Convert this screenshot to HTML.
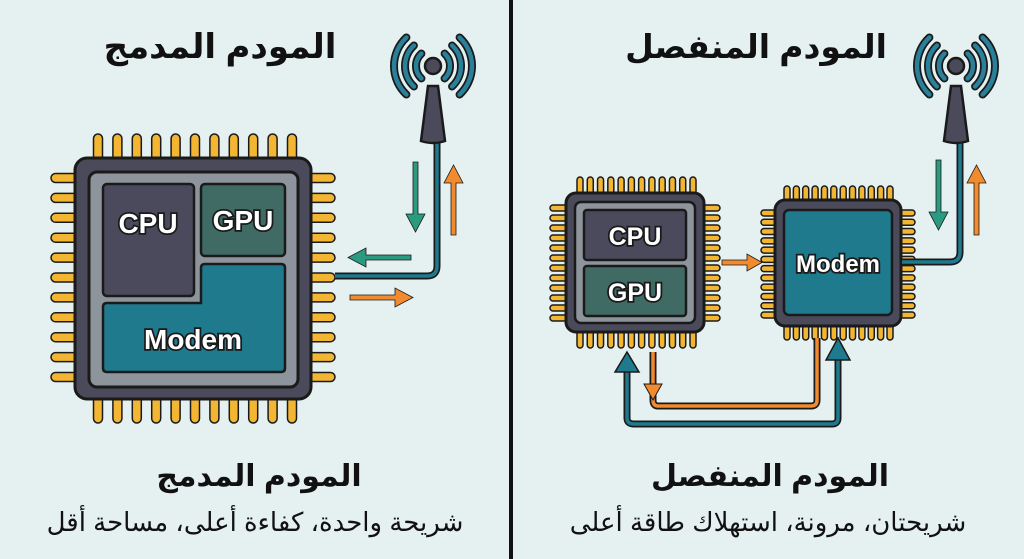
<!DOCTYPE html>
<html><head><meta charset="utf-8"><style>
html,body{margin:0;padding:0;background:#e5f0f1;}
svg{display:block}
text{font-family:"Liberation Sans","DejaVu Sans",sans-serif;}
.ar{font-family:"DejaVu Sans","Noto Sans CJK SC",sans-serif;}
.lbl text{paint-order:stroke;}
</style></head><body>
<svg id="s" width="1024" height="559" viewBox="0 0 1024 559" xmlns="http://www.w3.org/2000/svg">
<rect width="1024" height="559" fill="#e5f0f1"/>
<rect x="509" y="0" width="4" height="559" fill="#111"/>
<g id="pins"></g>

<!-- Left chip -->
<rect x="75" y="158" width="236" height="241" rx="12" fill="#4a4a5a" stroke="#1a1a1a" stroke-width="3"/>
<rect x="89" y="172" width="209" height="215" rx="8" fill="#8e949c" stroke="#1a1a1a" stroke-width="3"/>
<rect x="103" y="184" width="91" height="112" rx="4" fill="#4a4a5c" stroke="#1a1a1a" stroke-width="2.5"/>
<rect x="201" y="184" width="84" height="72" rx="4" fill="#3f6b64" stroke="#1a1a1a" stroke-width="2.5"/>
<path d="M205 264 H281 Q285 264 285 268 V368 Q285 372 281 372 H107 Q103 372 103 368 V307 Q103 303 107 303 H201 V268 Q201 264 205 264 Z" fill="#1f7a8e" stroke="#1a1a1a" stroke-width="2.5"/>
<g class="lbl" fill="#fff" stroke="#1a1a1a" stroke-width="3.5" font-weight="bold" text-anchor="middle">
<text x="148" y="233" font-size="28">CPU</text>
<text x="243" y="230" font-size="28">GPU</text>
<text x="193" y="349" font-size="28">Modem</text>
</g>

<!-- left connections -->
<path d="M437 138 V266 Q437 276 427 276 H335" fill="none" stroke="#1a1a1a" stroke-width="7"/>
<path d="M437 138 V266 Q437 276 427 276 H335" fill="none" stroke="#1f7a8e" stroke-width="3.5"/>
<g stroke="#1a1a1a" stroke-width="0.8">
<path d="M413 162 h5 v52 h7 l-9.5 18 l-9.5 -18 h7 z" fill="#2a9a80"/>
<path d="M451 235 h5 v-52 h7 l-9.5 -18 l-9.5 18 h7 z" fill="#f28a2e"/>
<path d="M411 255 v5 h-45 v7 l-18 -9.5 l18 -9.5 v7 z" fill="#2a9a80"/>
<path d="M350 295 v5 h45 v7 l18 -9.5 l-18 -9.5 v7 z" fill="#f28a2e"/>
</g>

<!-- Right chip1 -->
<rect x="566" y="193" width="138" height="139" rx="10" fill="#4a4a5a" stroke="#1a1a1a" stroke-width="3"/>
<rect x="575" y="202" width="120" height="121" rx="6" fill="#8e949c" stroke="#1a1a1a" stroke-width="2.5"/>
<rect x="584" y="210" width="102" height="50" rx="3" fill="#4a4a5c" stroke="#1a1a1a" stroke-width="2.5"/>
<rect x="584" y="266" width="102" height="50" rx="3" fill="#3f6b64" stroke="#1a1a1a" stroke-width="2.5"/>
<!-- chip2 -->
<rect x="775" y="200" width="126" height="126" rx="10" fill="#4a4a5a" stroke="#1a1a1a" stroke-width="3"/>
<rect x="784" y="210" width="108" height="105" rx="5" fill="#1f7a8e" stroke="#1a1a1a" stroke-width="2.5"/>
<g class="lbl" fill="#fff" stroke="#1a1a1a" stroke-width="3.5" font-weight="bold" text-anchor="middle">
<text x="635" y="245" font-size="25">CPU</text>
<text x="635" y="301" font-size="25">GPU</text>
<text x="838" y="272" font-size="24">Modem</text>
</g>
<path d="M722 260 h25 v-6 l15 8.5 l-15 8.5 v-6 h-25 z" fill="#f28a2e" stroke="#1a1a1a" stroke-width="0.8"/>
<path d="M960 138 V252 Q960 262 950 262 H902" fill="none" stroke="#1a1a1a" stroke-width="7"/>
<path d="M960 138 V252 Q960 262 950 262 H902" fill="none" stroke="#1f7a8e" stroke-width="3.5"/>
<g stroke="#1a1a1a" stroke-width="0.8">
<path d="M936 160 h5 v52 h7 l-9.5 18 l-9.5 -18 h7 z" fill="#2a9a80"/>
<path d="M974 235 h5 v-52 h7 l-9.5 -18 l-9.5 18 h7 z" fill="#f28a2e"/>
</g>
<!-- bottom loops -->
<path d="M817 338 V400 Q817 406 811 406 H658 Q653 406 653 400 V352" fill="none" stroke="#1a1a1a" stroke-width="7"/>
<path d="M817 338 V400 Q817 406 811 406 H658 Q653 406 653 400 V352" fill="none" stroke="#f28a2e" stroke-width="3.5"/>
<path d="M653 400 l-9 -16 h18 z" fill="#f28a2e" stroke="#1a1a1a" stroke-width="1"/>
<path d="M838 360 V418 Q838 424 832 424 H634 Q627 424 627 418 V370" fill="none" stroke="#1a1a1a" stroke-width="7"/>
<path d="M838 360 V418 Q838 424 832 424 H634 Q627 424 627 418 V370" fill="none" stroke="#1f7a8e" stroke-width="3.5"/>
<path d="M627 352 l-12 20 h24 z" fill="#1f7a8e" stroke="#1a1a1a" stroke-width="1.5"/>
<path d="M838 338 l-12 22 h24 z" fill="#1f7a8e" stroke="#1a1a1a" stroke-width="1.5"/>

<g id="ant"></g>

<g class="ar" fill="#111" font-weight="bold" text-anchor="middle" direction="rtl">
<text x="220" y="58" font-size="34">المودم المدمج</text>
<text x="756" y="58" font-size="33">المودم المنفصل</text>
<text x="259" y="486" font-size="30">المودم المدمج</text>
<text x="770" y="486" font-size="30">المودم المنفصل</text>
</g>
<g class="ar" fill="#111" text-anchor="middle" direction="rtl">
<text x="255" y="531" font-size="26">شريحة واحدة، كفاءة أعلى، مساحة أقل</text>
<text x="768" y="531" font-size="26">شريحتان، مرونة، استهلاك طاقة أعلى</text>
</g>
</svg>
<script>
var NS="http://www.w3.org/2000/svg";
var pins=document.getElementById("pins");
function pin(x,y,w,h){var r=document.createElementNS(NS,"rect");r.setAttribute("x",x);r.setAttribute("y",y);r.setAttribute("width",w);r.setAttribute("height",h);r.setAttribute("rx",Math.min(w,h)/2);r.setAttribute("fill","#f2b632");r.setAttribute("stroke","#1a1a1a");r.setAttribute("stroke-width","1.5");pins.appendChild(r);}
function chip(x0,x1,y0,y1,n,len,w,bx0,bx1,by0,by1){
 for(var i=0;i<n;i++){var x=x0+(x1-x0)*i/(n-1);pin(x-w/2,by0-len,w,len+6);pin(x-w/2,by1-6,w,len+6);}
 for(var i=0;i<n;i++){var y=y0+(y1-y0)*i/(n-1);pin(bx0-len,y-w/2,len+6,w);pin(bx1-6,y-w/2,len+6,w);}
}
chip(98,292,178,377,11,24,9,75,311,158,399);
chip(580,693,208,318,12,16,6,566,704,193,332);
chip(787,890,213,315,12,14,6,775,901,200,326);
var ant=document.getElementById("ant");
function antenna(cx,cy){
 var s='<path d="M'+(cx-5)+' '+(cy+20)+' L'+(cx+5)+' '+(cy+20)+' L'+(cx+12)+' '+(cy+75)+' Q'+(cx)+' '+(cy+79)+' '+(cx-12)+' '+(cy+75)+' Z" fill="#4a4a5a" stroke="#1a1a1a" stroke-width="2.5"/>';
 s+='<circle cx="'+cx+'" cy="'+cy+'" r="8" fill="#4a4a5a" stroke="#1a1a1a" stroke-width="2.5"/>';
 [17,28,39].forEach(function(r){
  var a=0.75,dx=r*Math.sin(a),dy=r*Math.cos(a);
  ['-1','1'].forEach(function(sg){var g=+sg;
   var d='M'+(cx+g*dx)+' '+(cy-dy)+' A'+r+' '+r+' 0 0 '+(g>0?1:0)+' '+(cx+g*dx)+' '+(cy+dy);
   s+='<path d="'+d+'" fill="none" stroke="#1a1a1a" stroke-width="8" stroke-linecap="round"/><path d="'+d+'" fill="none" stroke="#2a7f99" stroke-width="4.5" stroke-linecap="round"/>';});
 });
 return s;}
ant.innerHTML=antenna(433,66)+antenna(956,66);
</script>
</body></html>
